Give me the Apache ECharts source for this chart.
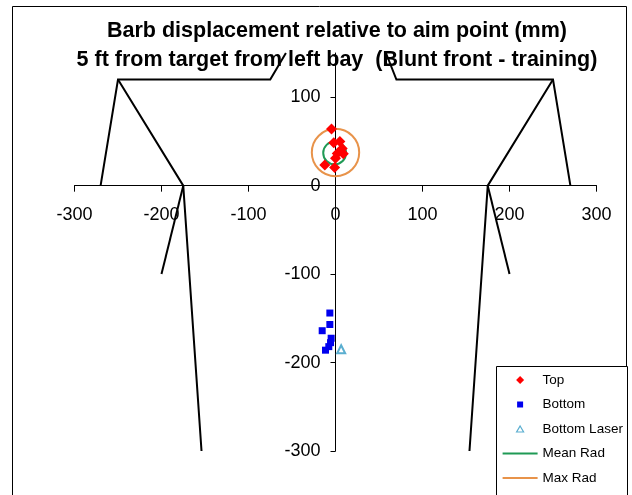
<!DOCTYPE html>
<html>
<head>
<meta charset="utf-8">
<script src="https://cdn.jsdelivr.net/npm/echarts@6/dist/echarts.min.js"></script>
<style>
  html, body { margin: 0; padding: 0; background: #fff; }
  #chart { width: 632px; height: 495px; }
</style>
</head>
<body>
<div id="chart"></div>
<script>
// barb hits (mm from aim point)
const topPoints = [[-4.6, 64], [-2, 48.5], [5, 50], [7.7, 42], [2, 36.5], [9, 36], [0, 31], [-12.3, 23.5], [-1, 20.5]];
const bottomPoints = [[-6.5, -144], [-6.5, -157], [-15.3, -164], [-5, -172.5], [-5.7, -177.5], [-7.7, -182], [-11.5, -186]];
const laserPoints = [[6.5, -185]];
// [centre x, centre y, radius]
const meanRad = [[-1, 37, 13]];
const maxRad = [[0, 37.5, 27]];

// target outline drawn in data units
const outline = [
    [[-270, 0], [-250, 120], [-75, 120], [-57, 150]],
    [[-250, 120], [-175, 0], [-154, -300]],
    [[-175, 0], [-200, -100]],
    [[270, 0], [250, 120], [70, 120], [58, 150]],
    [[250, 120], [175, 0], [154, -300]],
    [[175, 0], [200, -100]]
];

const xTickValues = [-300, -200, -100, 0, 100, 200, 300];
const yTickValues = [-300, -200, -100, 0, 100];
const titleLines = ['Barb displacement relative to aim point (mm)', '5 ft from target from left bay  (Blunt front - training)'];

const FONT = 'Liberation Sans, Arial, sans-serif';
const W = 632, H = 495;
const grid = { left: 74.5, right: 35.5, top: 53, bottom: 44 };
const xMin = -300, xMax = 300, yMin = -300, yMax = 150;

// axes cross at the origin: shift them from the grid edge
const yAxisOffset = -(0 - xMin) / (xMax - xMin) * (W - grid.left - grid.right);
const xAxisOffset = -(0 - yMin) / (yMax - yMin) * (H - grid.top - grid.bottom);

function circleItem(params, api) {
    const c = api.coord([api.value(0), api.value(1)]);
    const s = api.size([api.value(2), api.value(2)]);
    return {
        type: 'circle',
        shape: { cx: c[0], cy: c[1], r: (s[0] + s[1]) / 2 },
        style: { fill: 'none', stroke: api.visual('color'), lineWidth: 2 }
    };
}

// legend icons drawn in a 35x9 box (corner anchors keep the box size)
const box = 'M0,0L0,0M35,9L35,9';
const icons = {
    diamond: 'path://' + box + 'M13.5,4.5L17.5,0.5L21.5,4.5L17.5,8.5Z',
    square: 'path://' + box + 'M14.5,1.5H20.5V7.5H14.5Z',
    triangle: 'path://' + box + 'M17.5,1.5L21,7.5H14Z',
    line: 'path://' + box + 'M0,3.5H35V5.5H0Z'
};

const chart = echarts.init(document.getElementById('chart'));

const option = {
    animation: false,
    backgroundColor: '#fff',
    graphic: [
        { type: 'rect', z: -10, shape: { x: 12.5, y: 6.5, width: 614, height: 500 }, style: { fill: 'none', stroke: '#000', lineWidth: 1 } },
        { type: 'rect', z: 0, shape: { x: 496.5, y: 366.5, width: 131, height: 140 }, style: { fill: '#fff', stroke: '#000', lineWidth: 1 } },
        { type: 'text', x: 337, y: 31, style: { text: titleLines[0], font: 'bold 21.5px ' + FONT, fill: '#000', textAlign: 'center', textVerticalAlign: 'middle' } },
        { type: 'text', x: 337, y: 60, style: { text: titleLines[1], font: 'bold 21.5px ' + FONT, fill: '#000', textAlign: 'center', textVerticalAlign: 'middle' } }
    ],
    grid: grid,
    xAxis: {
        type: 'value',
        min: xMin,
        max: xMax,
        interval: 100,
        offset: xAxisOffset,
        splitLine: { show: false },
        axisLine: { onZero: false, lineStyle: { color: '#000', width: 1 } },
        axisTick: { length: 6, lineStyle: { color: '#000' }, customValues: xTickValues },
        axisLabel: { color: '#000', fontSize: 18, fontFamily: FONT, margin: 20, customValues: xTickValues }
    },
    yAxis: {
        type: 'value',
        min: yMin,
        max: yMax,
        interval: 100,
        offset: yAxisOffset,
        splitLine: { show: false },
        axisLine: { onZero: false, lineStyle: { color: '#000', width: 1 } },
        axisTick: { length: 5, lineStyle: { color: '#000' }, customValues: yTickValues },
        axisLabel: { color: '#000', fontSize: 18, fontFamily: FONT, margin: 15, customValues: yTickValues }
    },
    legend: {
        orient: 'vertical',
        left: 496,
        top: 366,
        padding: [6, 4, 2, 6],
        itemGap: 8.5,
        itemWidth: 35,
        itemHeight: 9,
        textStyle: { color: '#000', fontSize: 13.5, lineHeight: 16, fontFamily: FONT },
        data: [
            { name: 'Top', icon: icons.diamond },
            { name: 'Bottom', icon: icons.square },
            { name: 'Bottom Laser', icon: icons.triangle, itemStyle: { color: '#fff', borderColor: '#5aaed0', borderWidth: 1.2 } },
            { name: 'Mean Rad', icon: icons.line },
            { name: 'Max Rad', icon: icons.line }
        ]
    },
    series: [
        {
            type: 'lines',
            coordinateSystem: 'cartesian2d',
            polyline: true,
            silent: true,
            clip: true,
            z: 1,
            lineStyle: { color: '#000', width: 2, opacity: 1 },
            data: outline.map(pts => ({ coords: pts }))
        },
        {
            name: 'Mean Rad',
            type: 'custom',
            renderItem: circleItem,
            itemStyle: { color: '#1f9a55' },
            encode: { x: 0, y: 1 },
            z: 3,
            data: meanRad
        },
        {
            name: 'Max Rad',
            type: 'custom',
            renderItem: circleItem,
            itemStyle: { color: '#e8934a' },
            encode: { x: 0, y: 1 },
            z: 3,
            data: maxRad
        },
        {
            name: 'Top',
            type: 'scatter',
            symbol: 'diamond',
            symbolSize: 11,
            itemStyle: { color: '#ff0000', opacity: 1 },
            z: 5,
            data: topPoints
        },
        {
            name: 'Bottom',
            type: 'scatter',
            symbol: 'rect',
            symbolSize: 7,
            itemStyle: { color: '#0000ee', opacity: 1 },
            z: 5,
            data: bottomPoints
        },
        {
            name: 'Bottom Laser',
            type: 'scatter',
            symbol: 'emptyTriangle',
            symbolSize: 8,
            itemStyle: { color: '#5aaed0', borderWidth: 2, opacity: 1 },
            z: 5,
            data: laserPoints
        }
    ]
};

chart.setOption(option);
</script>
</body>
</html>
